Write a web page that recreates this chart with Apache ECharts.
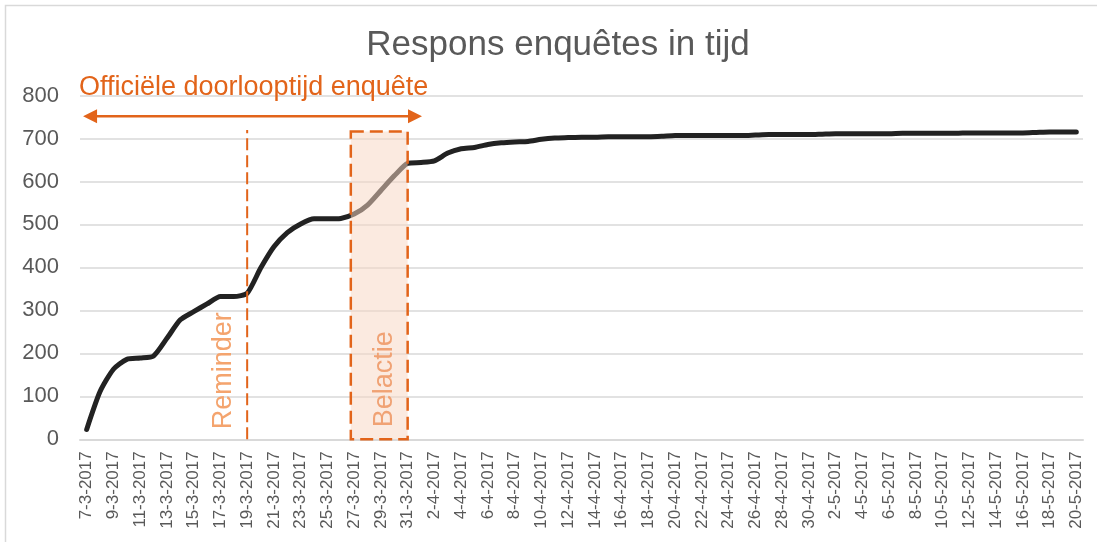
<!DOCTYPE html>
<html><head><meta charset="utf-8">
<script src="https://cdn.jsdelivr.net/npm/echarts@6/dist/echarts.min.js"></script>
<style>html,body{margin:0;padding:0;background:#fff}#c{width:1097px;height:542px}</style>
</head><body><div id="c"></div>
<script>
const categories = [
 '7-3-2017','8-3-2017','9-3-2017','10-3-2017','11-3-2017','12-3-2017','13-3-2017','14-3-2017','15-3-2017','16-3-2017',
 '17-3-2017','18-3-2017','19-3-2017','20-3-2017','21-3-2017','22-3-2017','23-3-2017','24-3-2017','25-3-2017','26-3-2017',
 '27-3-2017','28-3-2017','29-3-2017','30-3-2017','31-3-2017','1-4-2017','2-4-2017','3-4-2017','4-4-2017','5-4-2017',
 '6-4-2017','7-4-2017','8-4-2017','9-4-2017','10-4-2017','11-4-2017','12-4-2017','13-4-2017','14-4-2017','15-4-2017',
 '16-4-2017','17-4-2017','18-4-2017','19-4-2017','20-4-2017','21-4-2017','22-4-2017','23-4-2017','24-4-2017','25-4-2017',
 '26-4-2017','27-4-2017','28-4-2017','29-4-2017','30-4-2017','1-5-2017','2-5-2017','3-5-2017','4-5-2017','5-5-2017',
 '6-5-2017','7-5-2017','8-5-2017','9-5-2017','10-5-2017','11-5-2017','12-5-2017','13-5-2017','14-5-2017','15-5-2017',
 '16-5-2017','17-5-2017','18-5-2017','19-5-2017','20-5-2017'
];
const responses = [
 23,111,163,186,189,194,235,278,297,315,
 332,332,340,398,448,481,501,513,513,514,
 524,545,579,613,642,644,648,666,676,679,
 686,690,692,693,698,701,702,703,703,704,
 704,704,704,705,707,707,707,707,707,707,
 708,709,709,709,709,710,711,711,711,711,
 711,712,712,712,712,712,713,713,713,713,
 713,714,715,715,715
];
const yTickValues = [0,100,200,300,400,500,600,700,800];
const titleText = 'Respons enquêtes in tijd';
const periodText = 'Officiële doorlooptijd enquête';
const periodEndIndex = 25;
const periodArrowValue = 752;
const reminderText = 'Reminder';
const reminderIndex = 12;
const reminderTopValue = 720;
const belactieText = 'Belactie';
const belactieStart = 19.75;
const belactieEnd = 24;
const belactieTopValue = 716;

const FONT = '"Liberation Sans", Arial, sans-serif';
const ORANGE = '#e2641a';
const LIGHT_ORANGE = '#f4a46e';
const GREY = '#595959';

const chart = echarts.init(document.getElementById('c'), null, {renderer: 'canvas'});
chart.setOption({
  animation: false,
  backgroundColor: '#fff',
  grid: {left: 80, right: 14, top: 95.5, bottom: 102.7, containLabel: false, outerBoundsMode: 'none'},
  xAxis: {
    type: 'category',
    data: categories,
    boundaryGap: true,
    axisLine: {lineStyle: {color: '#d9d9d9', width: 2}},
    axisTick: {interval: 1, length: 6, lineStyle: {color: '#d9d9d9', width: 1.5}},
    axisLabel: {interval: 1, rotate: 90, margin: 12, fontSize: 17, color: GREY, fontFamily: FONT},
    splitLine: {show: false}
  },
  yAxis: {
    type: 'value',
    min: yTickValues[0],
    max: yTickValues[yTickValues.length - 1],
    interval: yTickValues[1] - yTickValues[0],
    axisLine: {show: false},
    axisTick: {show: false},
    axisLabel: {fontSize: 22, color: GREY, margin: 21, fontFamily: FONT},
    splitLine: {lineStyle: {color: '#d9d9d9', width: 1.5}}
  },
  series: [{
    type: 'line',
    data: responses,
    smooth: 0.22,
    showSymbol: false,
    symbol: 'none',
    z: 2,
    lineStyle: {color: '#222222', width: 5, cap: 'round', join: 'round'}
  }]
});

function X(i) {
  const a = chart.convertToPixel({xAxisIndex: 0}, 0);
  const b = chart.convertToPixel({xAxisIndex: 0}, categories.length - 1);
  return a + (b - a) * i / (categories.length - 1);
}
function Y(v) { return chart.convertToPixel({yAxisIndex: 0}, v); }

const step = X(1) - X(0);
const y0 = Y(0);
const yA = Y(periodArrowValue);
const leftTip = X(0) - 0.27 * step;
const rightTip = X(periodEndIndex) + 1;
const headLen = 14, headHalf = 7;
const bx0 = X(belactieStart), bx1 = X(belactieEnd), by0 = Y(belactieTopValue);

chart.setOption({
  graphic: [
    {type: 'rect', silent: true, z: -1, shape: {x: 5.5, y: 5.5, width: 1200, height: 700},
     style: {fill: 'none', stroke: '#d9d9d9', lineWidth: 1.5}},
    {type: 'text', silent: true, z: 20, x: 558, y: 45,
     style: {text: titleText, font: '35px ' + FONT, fill: GREY, align: 'center', verticalAlign: 'middle'}},
    {type: 'text', silent: true, z: 20, x: X(0) - step / 2 - 1, y: 88,
     style: {text: periodText, font: '27px ' + FONT, fill: ORANGE, align: 'left', verticalAlign: 'middle'}},
    {type: 'line', silent: true, z: 20, shape: {x1: leftTip + headLen - 1, y1: yA, x2: rightTip - headLen + 1, y2: yA},
     style: {stroke: ORANGE, lineWidth: 2.5}},
    {type: 'polygon', silent: true, z: 20, shape: {points: [[leftTip, yA], [leftTip + headLen, yA - headHalf], [leftTip + headLen, yA + headHalf]]},
     style: {fill: ORANGE}},
    {type: 'polygon', silent: true, z: 20, shape: {points: [[rightTip, yA], [rightTip - headLen, yA - headHalf], [rightTip - headLen, yA + headHalf]]},
     style: {fill: ORANGE}},
    {type: 'line', silent: true, z: 20, shape: {x1: X(reminderIndex), y1: y0, x2: X(reminderIndex), y2: Y(reminderTopValue)},
     style: {stroke: ORANGE, lineWidth: 2, lineDash: [12, 5]}},
    {type: 'text', silent: true, z: 20, x: X(reminderIndex) - 24, y: y0 - 10, rotation: Math.PI / 2,
     style: {text: reminderText, font: '27px ' + FONT, fill: LIGHT_ORANGE, align: 'left', verticalAlign: 'middle'}},
    {type: 'rect', silent: true, z: 10, shape: {x: bx0, y: by0, width: bx1 - bx0, height: y0 - by0},
     style: {fill: 'rgba(247,215,195,0.52)', stroke: ORANGE, lineWidth: 2.5, lineDash: [13, 6]}},
    {type: 'text', silent: true, z: 20, x: (bx0 + bx1) / 2 + 5, y: y0 - 12, rotation: Math.PI / 2,
     style: {text: belactieText, font: '27px ' + FONT, fill: '#f0a274', align: 'left', verticalAlign: 'middle'}}
  ]
});
</script>
</body></html>
